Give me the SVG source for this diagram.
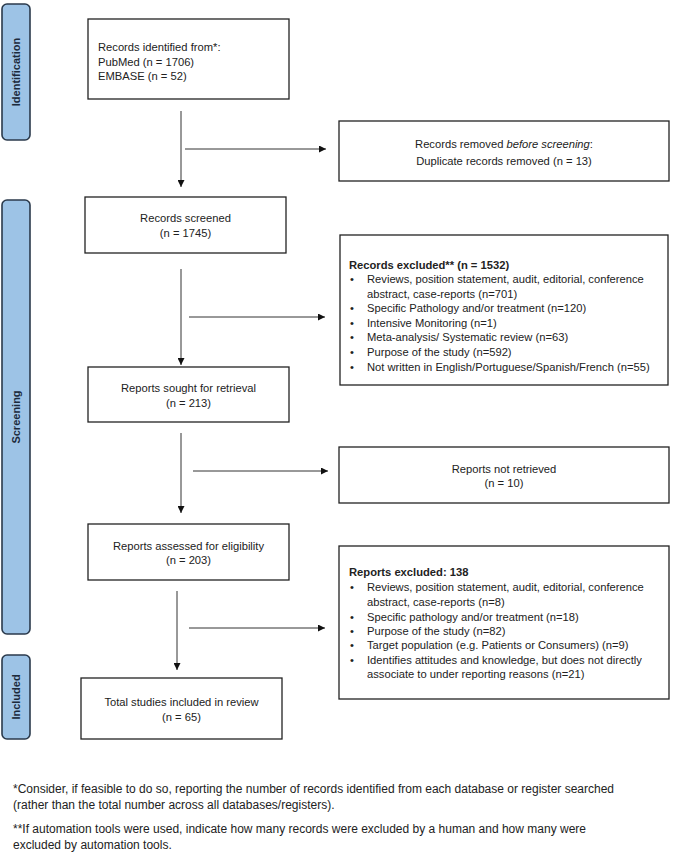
<svg xmlns="http://www.w3.org/2000/svg" width="676" height="853" viewBox="0 0 676 853">
<defs>
<marker id="ah" viewBox="0 0 10 10" refX="10" refY="5" markerWidth="7" markerHeight="7" markerUnits="userSpaceOnUse" orient="auto">
<path d="M0,0 L10,5 L0,10 z" fill="#111"/>
</marker>
<style>
.side{fill:#9dc3e6;stroke:#2b3a4c;stroke-width:1.6}
.sl{font-family:"Liberation Sans",Arial,sans-serif;font-size:11px;font-weight:bold;fill:#1c2a3c;text-anchor:middle}
.box{fill:#fff;stroke:#222;stroke-width:1.3}
.t{font-family:"Liberation Sans",Arial,sans-serif;font-size:11.2px;fill:#222}
.f{font-family:"Liberation Sans",Arial,sans-serif;font-size:12px;fill:#222}
.c{text-anchor:middle}
.b{font-weight:bold}
.ln{stroke:#333;stroke-width:1;fill:none;marker-end:url(#ah)}
</style>
</defs>
<rect width="676" height="853" fill="#fff"/>
<g id="side-identification"><rect class="side" x="2" y="4" width="28" height="136" rx="5"/><text class="sl" transform="translate(20,72) rotate(-90)">Identification</text></g>
<g id="side-screening"><rect class="side" x="2" y="200" width="28" height="434" rx="5"/><text class="sl" transform="translate(20,417) rotate(-90)">Screening</text></g>
<g id="side-included"><rect class="side" x="2" y="655" width="28" height="84" rx="5"/><text class="sl" transform="translate(20,697) rotate(-90)">Included</text></g>

<g id="identified"><rect class="box" x="88" y="19" width="201" height="80"/>
<text class="t" x="98" y="51">Records identified from*:</text>
<text class="t" x="98" y="65.5">PubMed (n = 1706)</text>
<text class="t" x="98" y="80">EMBASE (n = 52)</text></g>

<g id="removed"><rect class="box" x="339" y="121" width="330" height="60"/>
<text class="t c" x="504" y="148">Records removed <tspan font-style="italic">before screening</tspan>:</text>
<text class="t c" x="504" y="165">Duplicate records removed  (n = 13)</text></g>

<g id="screened"><rect class="box" x="85" y="197" width="201" height="56"/>
<text class="t c" x="185.5" y="222">Records screened</text>
<text class="t c" x="185.5" y="237">(n = 1745)</text></g>

<g id="records-excluded"><rect class="box" x="340" y="235" width="328" height="150"/>
<text class="t b" x="349" y="269">Records excluded** (n = 1532)</text>
<text class="t" x="350" y="283">•</text><text class="t" x="367" y="283">Reviews, position statement, audit, editorial, conference</text>
<text class="t" x="367" y="298">abstract, case-reports (n=701)</text>
<text class="t" x="350" y="312">•</text><text class="t" x="367" y="312">Specific Pathology and/or treatment (n=120)</text>
<text class="t" x="350" y="327">•</text><text class="t" x="367" y="327">Intensive Monitoring (n=1)</text>
<text class="t" x="350" y="341">•</text><text class="t" x="367" y="341">Meta-analysis/ Systematic review (n=63)</text>
<text class="t" x="350" y="356">•</text><text class="t" x="367" y="356">Purpose of the study (n=592)</text>
<text class="t" x="350" y="371">•</text><text class="t" x="367" y="371">Not written in English/Portuguese/Spanish/French (n=55)</text></g>

<g id="sought"><rect class="box" x="88" y="367" width="201" height="55"/>
<text class="t c" x="188.5" y="392">Reports sought for retrieval</text>
<text class="t c" x="188.5" y="407">(n = 213)</text></g>

<g id="not-retrieved"><rect class="box" x="339" y="447" width="330" height="56"/>
<text class="t c" x="504" y="473">Reports not retrieved</text>
<text class="t c" x="504" y="487">(n = 10)</text></g>

<g id="assessed"><rect class="box" x="88" y="524" width="201" height="56"/>
<text class="t c" x="188.5" y="550">Reports assessed for eligibility</text>
<text class="t c" x="188.5" y="564">(n = 203)</text></g>

<g id="reports-excluded"><rect class="box" x="339" y="546" width="330" height="153"/>
<text class="t b" x="349" y="576">Reports excluded: 138</text>
<text class="t" x="350" y="591">•</text><text class="t" x="367" y="591">Reviews, position statement, audit, editorial, conference</text>
<text class="t" x="367" y="606">abstract, case-reports (n=8)</text>
<text class="t" x="350" y="621">•</text><text class="t" x="367" y="621">Specific pathology and/or treatment (n=18)</text>
<text class="t" x="350" y="635">•</text><text class="t" x="367" y="635">Purpose of the study (n=82)</text>
<text class="t" x="350" y="649">•</text><text class="t" x="367" y="649">Target population (e.g. Patients or Consumers) (n=9)</text>
<text class="t" x="350" y="664">•</text><text class="t" x="367" y="664">Identifies attitudes and knowledge, but does not directly</text>
<text class="t" x="367" y="678">associate to under reporting reasons (n=21)</text></g>

<g id="included"><rect class="box" x="81" y="678" width="201" height="61"/>
<text class="t c" x="181.5" y="706">Total studies included in review</text>
<text class="t c" x="181.5" y="721">(n = 65)</text></g>

<g id="connectors">
<path class="ln" d="M181,111 V187"/>
<path class="ln" d="M185,149 H326"/>
<path class="ln" d="M181,269 V365"/>
<path class="ln" d="M189,317 H325"/>
<path class="ln" d="M181,433 V513"/>
<path class="ln" d="M193,471 H328"/>
<path class="ln" d="M177,591 V670"/>
<path class="ln" d="M189,628 H325"/>
</g>

<g id="footnotes">
<text class="f" x="13" y="793">*Consider, if feasible to do so, reporting the number of records identified from each database or register searched</text>
<text class="f" x="13" y="809">(rather than the total number across all databases/registers).</text>
<text class="f" x="13" y="833">**If automation tools were used, indicate how many records were excluded by a human and how many were</text>
<text class="f" x="13" y="849">excluded by automation tools.</text>
</g>
</svg>
